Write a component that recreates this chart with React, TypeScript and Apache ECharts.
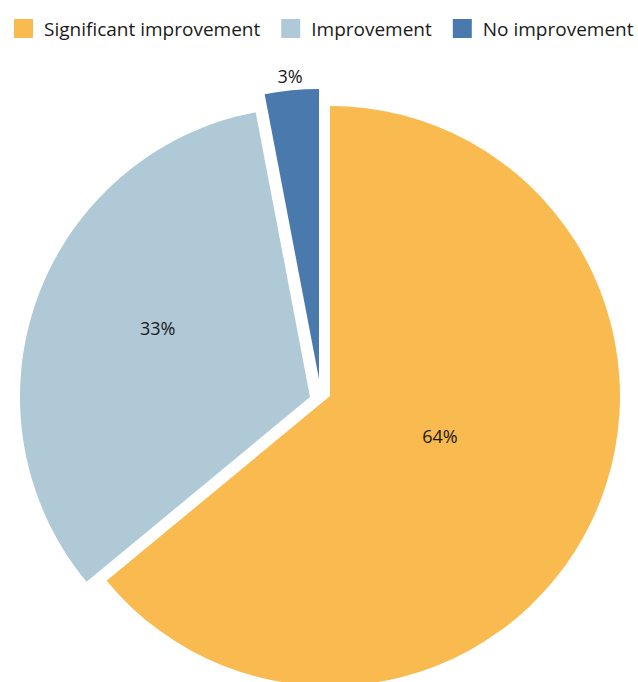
import React, { useEffect, useRef } from "react";
import * as echarts from "echarts";

const categories = ["Significant improvement", "Improvement", "No improvement"];
const values = [64, 33, 3];
const colors = ["#F9BA4F", "#AFC9D7", "#4A79AE"];
// each slice is pulled out of the pie by its own amount (centre of each drawn slice)
const sliceCenters = [
  [330, 396],
  [310, 397],
  [319, 379],
];
// label nudges (px) relative to the library's default inside label position
const labelDx = [-24, -13, -15];
const labelDy = [-23, -19, -156];

export default function App() {
  const ref = useRef<HTMLDivElement>(null);
  useEffect(() => {
    if (!ref.current) return;
    const chart = echarts.init(ref.current, undefined, { renderer: "svg" });
    const fontFamily = "'Open Sans', 'Noto Sans', sans-serif";
    chart.setOption({
      animation: false,
      legend: {
        left: 14,
        top: 19,
        width: 630,
        padding: 0,
        itemWidth: 19,
        itemHeight: 19,
        itemGap: 21,
        icon: "rect",
        selectedMode: false,
        textStyle: { fontSize: 19, color: "#1a1a1a", fontFamily, padding: [0, 0, 0, 6] },
        data: categories.map((name, i) => ({
          name,
          itemStyle: { color: colors[i], borderWidth: 0 },
        })),
      },
      series: categories.map((_, k) => ({
        type: "pie",
        name: categories[k],
        center: sliceCenters[k],
        radius: 290,
        startAngle: 90,
        clockwise: true,
        silent: true,
        avoidLabelOverlap: false,
        itemStyle: { borderWidth: 0 },
        label: {
          show: true,
          position: "inside",
          formatter: "{c}%",
          fontSize: 18,
          color: "#1a1a1a",
          fontFamily,
        },
        labelLine: { show: false },
        labelLayout: () => ({ dx: labelDx[k], dy: labelDy[k] }),
        emphasis: { disabled: true },
        data: values.map((v, i) => ({
          name: categories[i],
          value: v,
          itemStyle: { color: i === k ? colors[i] : "rgba(0,0,0,0)", borderWidth: 0 },
          label: { show: i === k },
        })),
      })),
    });
    return () => chart.dispose();
  }, []);
  return (
    <div
      ref={ref}
      style={{ position: "absolute", left: 0, top: 0, width: 638, height: 682 }}
    />
  );
}
